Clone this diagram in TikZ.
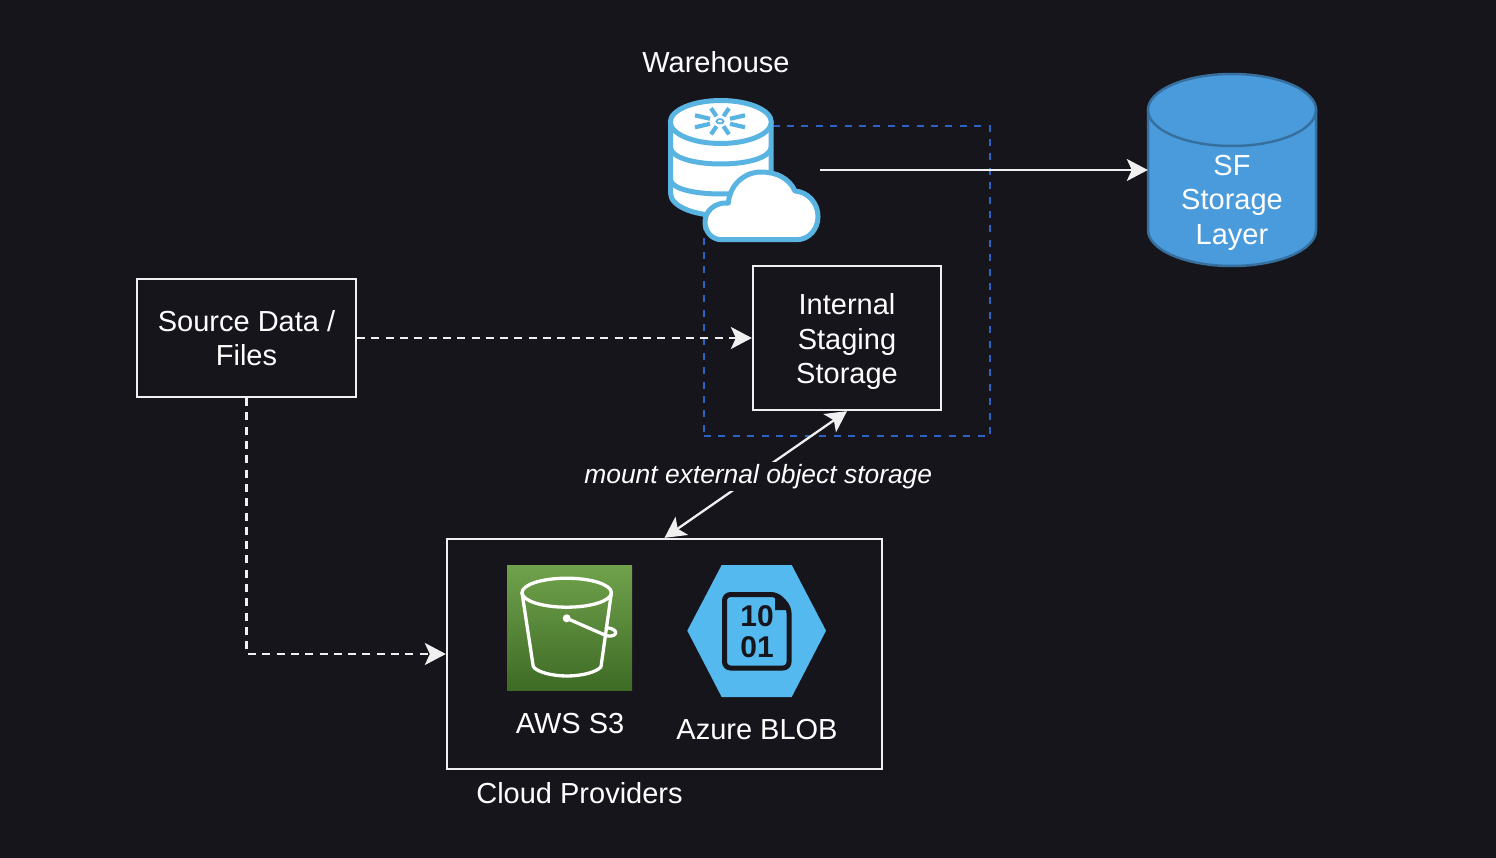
\documentclass[tikz,border=0pt]{standalone}
\usepackage{fontspec}
\setmainfont{Liberation Sans}
\usetikzlibrary{arrows.meta}
\definecolor{bgdark}{HTML}{16151C}
\definecolor{boxline}{HTML}{F0F0F0}
\definecolor{stageblue}{HTML}{2B62C4}
\definecolor{sffill}{HTML}{4A9BDC}
\definecolor{sfline}{HTML}{36709F}
\definecolor{iconblue}{HTML}{5AB4E2}
\definecolor{blobblue}{HTML}{54B9EE}
\definecolor{s3top}{HTML}{70A24C}
\definecolor{s3bottom}{HTML}{3E6B25}

\begin{document}
\begin{tikzpicture}[x=1pt,y=-1pt,
			caption/.style = {text=white,align=center,font=\fontsize{29}{34.5}\selectfont},
			box/.style = {rectangle,draw=boxline,line width=2.3pt,caption},
			stagebox/.style = {rectangle,draw=stageblue,line width=2.4pt,dash pattern=on 7pt off 7.4pt},
			sfstore/.style = {draw=sfline,line width=2.5pt,fill=sffill},
			flow/.style = {draw=boxline,line width=2.3pt,-{Stealth[length=21pt,width=22pt,inset=5pt]}},
			dashflow/.style = {flow,dash pattern=on 8pt off 6.3pt},
			iconline/.style = {draw=iconblue,line width=5pt,fill=white,line join=round},
			flake/.style = {draw=iconblue,line width=4.2pt},
			bucket/.style = {draw=white,line width=3.3pt,line join=round,line cap=round}]

\fill[bgdark] (0,0) rectangle (1496,858);
\useasboundingbox (0,0) rectangle (1496,858);

\node[stagebox,minimum width=286pt,minimum height=310pt] (warehousebox) at (847,281) {};

\node[caption] (warehouselabel) at (716,62) {Warehouse};
\node[minimum width=152pt,minimum height=143pt,inner sep=0pt] (warehouse) at (744,170) {};

\path[iconline] (670.5,122) -- (670.5,193) .. controls (670.5,206) and (693,215.5) .. (720.8,215.5) .. controls (748,215.5) and (771,206) .. (771,193) -- (771,122) -- cycle;
\draw[iconline,fill=none] (670.5,148) .. controls (672,158) and (695,164) .. (720.8,164) .. controls (747,164) and (769,158) .. (771,148);
\draw[iconline,fill=none] (670.5,180) .. controls (672,189) and (695,194) .. (720.8,194) .. controls (747,194) and (769,189) .. (771,180);
\draw[iconline] (720.8,122) ellipse [x radius=50.5,y radius=21.5];
\foreach \flip in {1,-1} {
  \begin{scope}[shift={(720,121.3)},xscale=\flip,yscale=\flip]
    \draw[flake] (-9,-13) -- (-3.5,-5);
    \draw[flake] (9,-13) -- (3.5,-5);
    \draw[flake] (-25,-6) -- (-10,-2.5);
    \draw[flake] (-25,6) -- (-10,2.5);
  \end{scope}
}
\draw[iconblue,line width=1.8pt] (720,121.3) ellipse [x radius=3.5,y radius=2.2];
\path[iconline] (721.7,239.7) -- (796.7,239.7) .. controls (809,239.7) and (818,229) .. (818,216.7) .. controls (818,203) and (808,192) .. (795,191) .. controls (789,178) and (776,172) .. (761,172) .. controls (745,172) and (730,184) .. (728.3,203) .. controls (715,202) and (705,211) .. (705,222) .. controls (705,232) and (712,239.7) .. (721.7,239.7) -- cycle;

\node[minimum width=168pt,minimum height=192pt,inner sep=0pt] (sfstorage) at (1232,170) {};
\path[sfstore] (1148,110) -- (1148,230) .. controls (1148,249.9) and (1185.6,266) .. (1232,266) .. controls (1278.4,266) and (1316,249.9) .. (1316,230) -- (1316,110) -- cycle;
\path[sfstore] (1232,110) ellipse [x radius=84,y radius=36];
\node[caption] (sflabel) at (1232,202.5) {SF\\Storage\\Layer};

\node[box,minimum width=219pt,minimum height=118pt] (source) at (246.5,338) {Source Data /\\Files};
\node[box,minimum width=188pt,minimum height=144pt] (staging) at (847,338) {};
\node[caption] (staginglabel) at (847,342) {Internal\\Staging\\Storage};
\node[box,minimum width=435pt,minimum height=230pt] (cloudbox) at (664.5,654) {};

\node[minimum size=125pt,inner sep=0pt,top color=s3top,bottom color=s3bottom] (s3) at (569.5,627.5) {};
\draw[bucket] (566.7,592.7) ellipse [x radius=44.7,y radius=14.5];
\draw[bucket] (522,592.7) -- (533.3,666.7) .. controls (537,672) and (552,676) .. (567,676) .. controls (582,676) and (597,672) .. (601,666.7) -- (611.4,592.7);
\draw[bucket] (566.7,618.3) -- (606,635.5) .. controls (613,637.5) and (617,634) .. (615.5,631.5) .. controls (614,629) and (609,627.5) .. (606,628);
\fill[white] (566.7,618.3) circle (4pt);

\fill[blobblue] (687.3,630.7) -- (721.7,565) -- (791.7,565) -- (826,630.7) -- (791.7,697) -- (721.7,697) -- cycle;
\draw[bgdark,line width=5pt,line join=round,rounded corners=6pt] (724.5,594.5) -- (777,594.5) -- (789,607) -- (789,668) -- (724.5,668) -- cycle;
\fill[bgdark] (775,594) -- (775,610) -- (789,610) -- cycle;
\node[text=bgdark,font=\fontsize{30}{31}\selectfont\bfseries,align=center,inner sep=0pt] (blobbits) at (757,632) {10\\01};

\node[caption] (s3label) at (570,723.5) {AWS S3};
\node[caption] (bloblabel) at (757,730) {Azure BLOB};
\node[caption] (cloudlabel) at (579.5,793) {Cloud Providers};

\draw[flow] (warehouse.east) -- (sfstorage.west);
\draw[dashflow] (source.east) -- (staging.west);
\draw[dashflow] (source.south) |- (cloudbox.west);
\draw[flow,{Stealth[length=21pt,width=22pt,inset=5pt]}-{Stealth[length=21pt,width=22pt,inset=5pt]}] (staging.south) -- node[fill=bgdark,inner sep=2pt,xshift=2.5pt,yshift=-2pt,text=white,font=\fontsize{26.4}{30}\selectfont\itshape] (mountlabel) {mount external object storage} (cloudbox.north);

\end{tikzpicture}
\end{document}
